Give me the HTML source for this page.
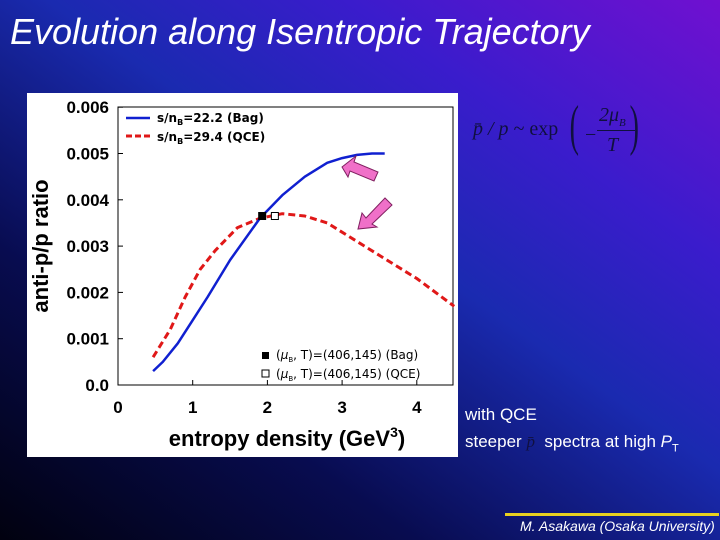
<!DOCTYPE html>
<html><head><meta charset="utf-8"><style>
body{margin:0;width:720px;height:540px;overflow:hidden;font-family:"Liberation Sans",sans-serif;}
#bg{position:absolute;left:0;top:0;width:720px;height:540px;background:linear-gradient(35deg,#01010f 0%,#080c50 28%,#1a2ab0 55%,#3a1ccc 75%,#7010d0 100%);}
.t{position:absolute;color:#fff;}
</style></head><body>
<div id="bg"></div>
<div class="t" style="left:10px;top:11px;font-size:36px;font-style:italic;">Evolution along Isentropic Trajectory</div>
<div class="t" style="left:473px;top:100px;color:#101040;font-family:'Liberation Serif',serif;font-size:20px;">
<span style="position:absolute;left:0;top:18px;white-space:nowrap;font-style:italic;">p&#772; / p <span style="font-style:normal">~ exp</span></span>
<span style="position:absolute;left:92px;top:-6px;font-size:56px;font-weight:100;transform:scaleX(.5);">(</span>
<span style="position:absolute;left:112px;top:24px;">−</span>
<span style="position:absolute;left:126px;top:4px;font-style:italic;white-space:nowrap;">2μ<sub style="font-size:11px">B</sub></span>
<div style="position:absolute;left:124px;top:30px;width:38px;border-top:1px solid #101040;"></div>
<span style="position:absolute;left:134px;top:34px;font-style:italic;">T</span>
<span style="position:absolute;left:152px;top:-6px;font-size:56px;transform:scaleX(.5);">)</span>
</div>
<div class="t" style="left:465px;top:401px;font-size:17px;line-height:27px;">with QCE<br>steeper <span style="font-family:'Liberation Serif',serif;font-style:italic;color:#101040;">p&#772;</span>&nbsp; spectra at high <i>P</i><sub style="font-size:11px">T</sub></div>
<div style="position:absolute;left:505px;top:513px;width:214px;height:3px;background:#e8d020;"></div>
<div class="t" style="left:520px;top:518px;font-size:14px;font-style:italic;">M. Asakawa (Osaka University)</div>
<svg id="chart" style="position:absolute;left:0;top:0" width="720" height="540"></svg>
<script>
const xTicks=[0,1,2,3,4];
const yTicks=[0,0.001,0.002,0.003,0.004,0.005,0.006];
const yTickLabels=["0.0","0.001","0.002","0.003","0.004","0.005","0.006"];
const bagX=[0.47,0.6,0.8,1.0,1.2,1.5,1.9,2.2,2.5,2.8,3.0,3.2,3.4,3.57];
const bagY=[0.0003,0.0005,0.0009,0.0014,0.0019,0.0027,0.0036,0.0041,0.0045,0.0048,0.0049,0.00497,0.005,0.005];
const qceX=[0.47,0.7,0.9,1.1,1.3,1.6,1.9,2.2,2.5,2.8,3.0,3.5,4.0,4.5];
const qceY=[0.0006,0.0012,0.0019,0.0025,0.0029,0.0034,0.0036,0.0037,0.00365,0.0035,0.0033,0.0028,0.0023,0.0017];
const markBag=[1.93,0.00365], markQce=[2.1,0.00365];
const X=v=>118+v*74.7, Y=v=>385-v*46300;
const s=document.getElementById('chart');
const ns='http://www.w3.org/2000/svg';
function mk(t,a,p){const e=document.createElementNS(ns,t);for(const k in a)e.setAttribute(k,a[k]);(p||s).appendChild(e);return e;}
let e=mk('rect',{x:27,y:93,width:431,height:364,fill:'#fff'});


e=mk('rect',{x:118,y:107,width:335,height:278,fill:'none',stroke:'#000','stroke-width':1});


xTicks.forEach(v=>{
 e=mk('text',{x:X(v),y:413,'text-anchor':'middle','font-size':17,'font-weight':'bold','font-family':'Liberation Sans'});e.textContent=v;
 
 
 mk('line',{x1:X(v),x2:X(v),y1:385,y2:380,stroke:'#000'});
});
yTicks.forEach((v,i)=>{
 e=mk('text',{x:109,y:Y(v)+6,'text-anchor':'end','font-size':17,'font-weight':'bold','font-family':'Liberation Sans'});e.textContent=yTickLabels[i];
 
 
 mk('line',{x1:118,x2:123,y1:Y(v),y2:Y(v),stroke:'#000'});
});
e=mk('text',{x:287,y:446,'text-anchor':'middle','font-size':22,'font-weight':'bold','font-family':'Liberation Sans'});e.innerHTML='entropy density (GeV<tspan dy="-9" font-size="14">3</tspan><tspan dy="9">)</tspan>';


e=mk('text',{x:0,y:0,transform:'translate(48,246) rotate(-90)','text-anchor':'middle','font-size':22,'font-weight':'bold','font-family':'Liberation Sans'});e.textContent='anti-p/p ratio';


const pts=(xs,ys)=>xs.map((x,i)=>X(x).toFixed(1)+','+Y(ys[i]).toFixed(1)).join(' ');
e=mk('polyline',{points:pts(qceX,qceY),fill:'none',stroke:'#e01818','stroke-width':3,'stroke-dasharray':'7,4','stroke-linejoin':'round'});


e=mk('polyline',{points:pts(bagX,bagY),fill:'none',stroke:'#1020d0','stroke-width':2.5,'stroke-linejoin':'round'});


e=mk('rect',{x:X(markBag[0])-4,y:Y(markBag[1])-4,width:8,height:8,fill:'#000'});


e=mk('rect',{x:X(markQce[0])-3.5,y:Y(markQce[1])-3.5,width:7,height:7,fill:'#fff',stroke:'#000'});


mk('line',{x1:126,x2:150,y1:118,y2:118,stroke:'#1020d0','stroke-width':2.5});
mk('line',{x1:126,x2:150,y1:136,y2:136,stroke:'#e01818','stroke-width':3,'stroke-dasharray':'6,3'});
[122,141].forEach((yy,i)=>{
 e=mk('text',{x:157,y:yy,'font-size':12,'font-weight':'bold','font-family':'DejaVu Sans'});e.innerHTML=i?'s/n<tspan dy="3" font-size="8">B</tspan><tspan dy="-3">=29.4 (QCE)</tspan>':'s/n<tspan dy="3" font-size="8">B</tspan><tspan dy="-3">=22.2 (Bag)</tspan>';
 
 
});
mk('rect',{x:262,y:352,width:7,height:7,fill:'#000'});
mk('rect',{x:262,y:370,width:7,height:7,fill:'#fff',stroke:'#000'});
[[359,'(Bag)'],[378,'(QCE)']].forEach(l=>{
 e=mk('text',{x:276,y:l[0],'font-size':12,'font-family':'DejaVu Sans'});e.innerHTML='(<tspan font-style="italic">μ</tspan><tspan dy="3" font-size="7">B</tspan><tspan dy="-3">, T)=(406,145) '+l[1]+'</tspan>';
 
 
});
e=mk('polygon',{points:'0,0 14,-11 12,-5 36,5 32,14 8,4 6,10',fill:'#f070c8',stroke:'#802060','stroke-width':1,transform:'translate(342,167)'});


e=mk('polygon',{points:'0,0 4,-16 8,-11 27,-31 34,-24 14,-5 19,-2',fill:'#f070c8',stroke:'#802060','stroke-width':1,transform:'translate(358,229)'});


</script>
</body></html>
